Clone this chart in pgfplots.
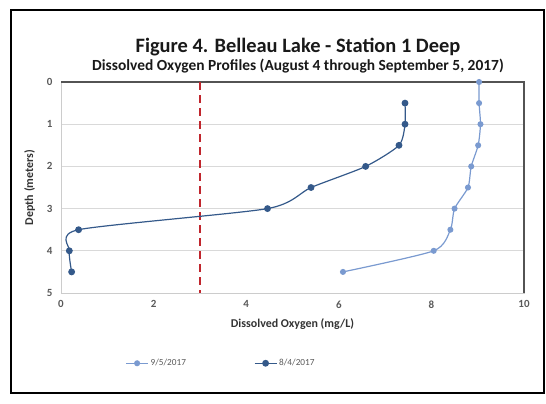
\documentclass[border=0pt]{standalone}
\usepackage{fontspec}
\setmainfont{Carlito}
\usepackage{pgfplots}
\pgfplotsset{compat=1.18}
\definecolor{lightser}{HTML}{7A9AD0}
\definecolor{darkser}{HTML}{34598A}
\definecolor{reddash}{HTML}{C0262D}
\definecolor{ticktext}{HTML}{595959}
\definecolor{gridc}{HTML}{D9D9D9}
\begin{document}
\begin{tikzpicture}
\path[use as bounding box] (0bp,0bp) rectangle (546bp,404bp);
\draw[black,line width=1.2bp] (11bp,11bp) rectangle (544bp,394bp);
\node[font=\bfseries\fontsize{20.5}{22}\selectfont, text=black!90] at (298bp,357bp) {Figure 4. Belleau Lake - Station 1 Deep};
\node[font=\bfseries\fontsize{15.5}{17}\selectfont, text=black!90] at (298bp,338bp) {Dissolved Oxygen Profiles (August 4 through September 5, 2017)};
\begin{axis}[
  at={(61bp,111bp)}, anchor=south west,
  scale only axis, width=463bp, height=211bp,
  xmin=0, xmax=10, ymin=0, ymax=5,
  y dir=reverse,
  xtick={0,2,4,6,8,10}, ytick={0,1,2,3,4,5},
  tick style={draw=none},
  ymajorgrids, grid style={gridc, line width=0.8bp},
  axis line style={draw=gray!40, line width=0.8bp},
  /pgf/number format/assume math mode=true,
  ticklabel style={font=\bfseries\fontsize{11}{12}\selectfont, text=ticktext},
  xticklabel style={yshift=-4bp},
  yticklabel style={xshift=-5bp},
  xlabel={Dissolved Oxygen (mg/L)},
  ylabel={Depth (meters)},
  label style={font=\bfseries\fontsize{12}{13}\selectfont, text=black!80},
  xlabel style={yshift=-4bp},
  ylabel style={yshift=5bp},
  legend columns=2,
  legend style={at={(0.3456,-0.333)}, anchor=center, draw=none, fill=none,
    font=\fontsize{9.3}{10}\selectfont, text=ticktext,
    /tikz/every even column/.append style={column sep=66bp}},
  legend image code/.code={\draw[mark repeat=2,mark phase=2] plot coordinates {(0bp,0bp)(11bp,0bp)(22bp,0bp)};},
  clip=false,
]
\draw[gray!65!black, line width=1.5bp] (axis cs:0,0) -- (axis cs:10,0) -- (axis cs:10,5);
\addplot[reddash, line width=2.4bp, dash pattern=on 8bp off 5bp, forget plot] coordinates {(3,0) (3,5)};
\addplot[lightser, line width=1.2bp, smooth, tension=0.4, mark=*, mark size=2.4bp, mark options={fill=lightser, draw=lightser}]
  coordinates {(9.03,0) (9.03,0.5) (9.06,1) (9.01,1.5) (8.86,2) (8.79,2.5) (8.50,3) (8.41,3.5) (8.05,4) (6.09,4.5)};
\addlegendentry{9/5/2017}
\addplot[darkser, line width=1.2bp, smooth, tension=0.4, mark=*, mark size=2.8bp, mark options={fill=darkser, draw=darkser}]
  coordinates {(7.43,0.5) (7.43,1) (7.30,1.5) (6.58,2) (5.40,2.5) (4.46,3) (0.38,3.5) (0.18,4) (0.23,4.5)};
\addlegendentry{8/4/2017}
\end{axis}
\end{tikzpicture}
\end{document}
